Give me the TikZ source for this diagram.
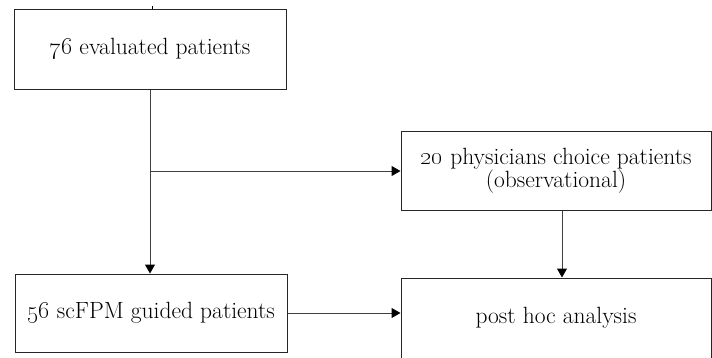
\documentclass[tikz,border=0pt]{standalone}
\usetikzlibrary{arrows.meta,calc}
\begin{document}
\begin{tikzpicture}[x=1pt,y=-1pt,
  box/.style={draw=black!85,line width=1pt,rectangle,inner sep=0pt,align=center,
    font=\fontsize{23.5}{22}\selectfont},
  conn/.style={draw=black!75,line width=1pt,-{Triangle[length=9pt,width=10pt,color=black]}},
  plain/.style={draw=black!75,line width=1pt}]
\useasboundingbox (0,0) rectangle (712,357);
\node[box,minimum width=272pt,minimum height=80pt] (b1) at (150,49) {\oldstylenums{76} evaluated patients};
\node[box,minimum width=310pt,minimum height=79pt] (b2) at (556,170.5) {\oldstylenums{20} physicians choice patients\\(observational)};
\node[box,minimum width=272pt,minimum height=78pt] (b3) at (151,313) {\oldstylenums{56} scFPM guided patients};
\node[box,minimum width=310pt,minimum height=80pt] (b4) at (556,318) {post hoc analysis};
\coordinate (tick) at (152,6);
\draw[plain,draw=black] (tick) -- (tick |- b1.north);
\coordinate (split) at (150,171);
\draw[plain] (b1.south -| split) -- (split);
\draw[conn] (split) -- (split |- b3.north);
\draw[conn] (split) -- (split -| b2.west);
\draw[conn] (b3.east |- 0,313) -- (b4.west |- 0,313);
\draw[conn] (562,0 |- b2.south) -- (562,0 |- b4.north);
\end{tikzpicture}
\end{document}
